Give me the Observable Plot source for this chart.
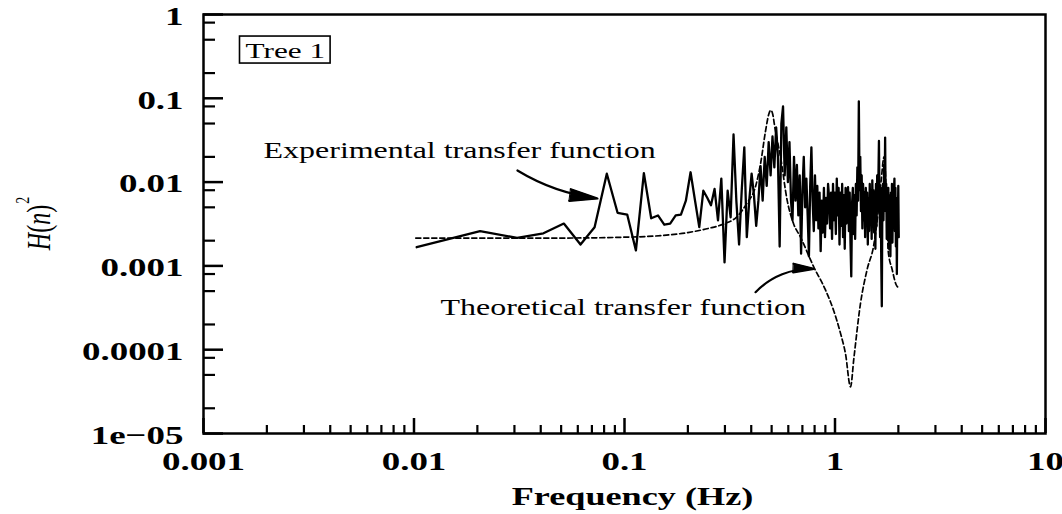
<!DOCTYPE html>
<html><head><meta charset="utf-8">
<script src="https://cdn.jsdelivr.net/npm/d3@7"></script>
<script src="https://cdn.jsdelivr.net/npm/@observablehq/plot@0.6"></script>
<style>body{margin:0;background:#fff;} #chart svg{display:block;}</style>
</head><body><div id="chart"></div>
<script>
// ---- data ----
const freqStep = 0.0103; // spectral resolution (Hz) of the measured transfer function
const experimental = [
 0.00167,0.0026,0.00216,0.00245,0.0032,0.0018,0.0029,0.0126,0.0043,0.0041,
 0.00153,0.0128,0.0037,0.004,0.0031,0.0032,0.004,0.0041,0.006,0.0131,
 0.006,0.0029,0.0079,0.0065,0.0053,0.0083,0.0035,0.011,0.0011,0.0079,
 0.0038,0.037,0.006,0.0018,0.008,0.026,0.0022,0.006,0.0126,0.007,
 0.003,0.006,0.0155,0.006,0.02,0.009,0.03,0.012,0.035,0.015,
 0.045,0.02,0.0017,0.05,0.08,0.012,0.045,0.01,0.03,0.006,
 0.0035,0.02,0.006,0.016,0.004,0.012,0.0014,0.008,0.02,0.005,
 0.011,0.004,0.0013,0.009,0.026,0.006,0.0026,0.012,0.0035,0.009,
 0.0028,0.0075,0.0015,0.006,0.0025,0.0085,0.0022,0.0065,0.0032,0.0095,
 0.0066,0.0028,0.0075,0.0021,0.0095,0.0035,0.0075,0.0024,0.011,0.004,
 0.0085,0.0018,0.0075,0.003,0.0095,0.0022,0.007,0.0016,0.0085,0.0032,
 0.0065,0.0087,0.0026,0.0075,0.0019,0.00075,0.0055,0.0085,0.0024,0.007,
 0.0021,0.0095,0.004,0.015,0.006,0.092,0.008,0.02,0.0045,0.012,
 0.0028,0.0095,0.0035,0.0075,0.0022,0.0085,0.003,0.0075,0.0018,0.0065,
 0.0026,0.0095,0.0032,0.008,0.0021,0.0105,0.0038,0.008,0.0025,0.0075,
 0.0016,0.0095,0.003,0.012,0.0045,0.01,0.031,0.0055,0.0022,0.0085,
 0.0012,0.00033,0.006,0.0095,0.0035,0.016,0.006,0.034,0.0045,0.0095,
 0.0021,0.0075,0.0028,0.0085,0.0016,0.007,0.0035,0.0013,0.0075,0.0024,
 0.0095,0.0019,0.007,0.003,0.008,0.011,0.0026,0.0085,0.0017,0.0065,
 0.0008,0.006,0.0028,0.009,0.0022
];
const theoFreq = [0.0102,0.02,0.05,0.1,0.15,0.2,0.25,0.3,0.34,0.38,0.42,0.443,0.468,0.485,0.495,0.505,0.52,0.551,0.593,0.635,0.686,0.793,0.9,0.987,1.06,1.122,1.185,1.23,1.32,1.42,1.53,1.6,1.66,1.71,1.75,1.79,1.87,1.95,2.0];
const theoValue = [0.00215,0.00215,0.00215,0.0022,0.0023,0.0025,0.0028,0.0032,0.0038,0.0055,0.009,0.0166,0.041,0.065,0.072,0.066,0.042,0.02,0.006,0.0032,0.0022,0.00097,0.00052,0.00029,0.00016,0.000089,0.000036,0.00008,0.00035,0.0009,0.0018,0.0042,0.011,0.02,0.008,0.0015,0.0009,0.0006,0.00055];

const xTicks = [0.001, 0.01, 0.1, 1, 10];
const xTickLabels = ["0.001", "0.01", "0.1", "1", "10"];
const yTicks = [1, 0.1, 0.01, 0.001, 0.0001, 0.00001];
const yTickLabels = ["1", "0.1", "0.01", "0.001", "0.0001", "1e\u221205"];
const xDecades = [0.001, 0.01, 0.1, 1];
const xMinorMult = [2, 3, 4, 5, 6, 7, 8, 9];
const yDecades = [0.00001, 0.0001, 0.001, 0.01, 0.1];
const yMinorMult = [2, 5, 8];

const annText = ["Experimental transfer function", "Theoretical transfer function"];
const annX = [0.00193, 0.01336];
const annY = [0.0235, 0.000312];
const arrowX1 = [0.0310, 0.4193];
const arrowY1 = [0.01375, 0.000486];
const arrowX2 = [0.0744, 0.793];
const arrowY2 = [0.00637, 0.000923];
const arrowBend = [-12, 24];
const boxLabel = "Tree 1";
const xTitle = "Frequency (Hz)";

// ---- build ----
const expData = experimental.map((v, i) => ({f: (i + 1) * freqStep, v}));
const theoData = theoFreq.map((f, i) => ({f, v: theoValue[i]}));
const xMinor = xDecades.flatMap(d => xMinorMult.map(m => m * d));
const yMinor = yDecades.flatMap(d => yMinorMult.map(m => m * d));
const xLab = new Map(xTicks.map((t, i) => [t, xTickLabels[i]]));
const yLab = new Map(yTicks.map((t, i) => [t, yTickLabels[i]]));
const ann = annText.map((t, i) => ({t, x: annX[i], y: annY[i]}));

const serif = "'Liberation Serif', 'Times New Roman', serif";
const chart = Plot.plot({
  width: 1062, height: 514,
  marginLeft: 203, marginRight: 17, marginTop: 14, marginBottom: 81,
  style: {background: "white", color: "black", fontFamily: serif},
  x: {type: "log", domain: [0.001, 10]},
  y: {type: "log", domain: [0.00001, 1]},
  marks: [
    Plot.line(theoData, {x: "f", y: "v", stroke: "black", strokeWidth: 1.7, strokeDasharray: "5,3", curve: "monotone-x"}),
    Plot.line(expData, {x: "f", y: "v", stroke: "black", strokeWidth: 2.3}),
    Plot.frame({stroke: "black", strokeWidth: 2.5}),
    Plot.axisX({ticks: xTicks, anchor: "bottom", tickSize: 0, tickPadding: 18, tickFormat: d => xLab.get(d), fontSize: 26, fontWeight: "bold", label: null}),
    Plot.axisX({ticks: xTicks, anchor: "bottom", tickSize: 15, dy: -15, text: null, strokeWidth: 2.5, label: null}),
    Plot.axisX({ticks: xMinor, anchor: "bottom", tickSize: 8, dy: -8, text: null, strokeWidth: 2.2, label: null}),
    Plot.axisY({ticks: yTicks, anchor: "left", tickSize: 0, tickPadding: 20, dy: 2, tickFormat: d => yLab.get(d), fontSize: 26, fontWeight: "bold", label: null}),
    Plot.axisY({ticks: yTicks, anchor: "left", tickSize: 20, dx: 20, text: null, strokeWidth: 2.5, label: null}),
    Plot.axisY({ticks: yMinor, anchor: "left", tickSize: 12, dx: 12, text: null, strokeWidth: 2.2, label: null}),
    Plot.text(ann, {x: "x", y: "y", text: "t", textAnchor: "start", lineAnchor: "middle", fontSize: 22.5, fill: "black"}),
    Plot.arrow([0], {x1: () => arrowX1[0], y1: () => arrowY1[0], x2: () => arrowX2[0], y2: () => arrowY2[0], bend: arrowBend[0], headLength: 30, headAngle: 24, strokeWidth: 2.2, stroke: "black"}),
    Plot.arrow([0], {x1: () => arrowX1[1], y1: () => arrowY1[1], x2: () => arrowX2[1], y2: () => arrowY2[1], bend: arrowBend[1], headLength: 30, headAngle: 24, strokeWidth: 2.2, stroke: "black"}),
    Plot.text([boxLabel], {frameAnchor: "top-left", dx: 42, dy: 36, textAnchor: "start", lineAnchor: "middle", fontSize: 22, fill: "black"}),
    Plot.text([xTitle], {frameAnchor: "bottom", dx: 8, dy: 63, lineAnchor: "middle", fontSize: 25.5, fontWeight: "bold", fill: "black"})
  ]
});
document.getElementById("chart").append(chart);

// horizontal stretch of the typeset text, as in the reference
const SX = 1.42;
const svgNS = "http://www.w3.org/2000/svg";
d3.select(chart).selectAll("text").each(function() {
  const w = this.getComputedTextLength();
  if (w > 0) {
    this.setAttribute("textLength", (w * SX).toFixed(1));
    this.setAttribute("lengthAdjust", "spacingAndGlyphs");
  }
});

// filled arrowheads
d3.select(chart).selectAll('g[aria-label="arrow"] path').each(function() {
  const d = this.getAttribute("d");
  const m = d.match(/M[^M]*$/);
  if (m) {
    const p = document.createElementNS(svgNS, "path");
    p.setAttribute("d", m[0] + "Z");
    p.setAttribute("fill", "black");
    p.setAttribute("stroke", "black");
    p.setAttribute("stroke-width", "1");
    p.setAttribute("stroke-linejoin", "miter");
    this.parentNode.appendChild(p);
  }
});

// box around the "Tree 1" label
d3.select(chart).selectAll("text").filter(function() { return this.textContent === boxLabel; }).each(function() {
  const b = this.getBBox();
  const t = this.getAttribute("transform");
  const r = document.createElementNS(svgNS, "rect");
  r.setAttribute("x", b.x - 6);
  r.setAttribute("y", b.y - 1.5);
  r.setAttribute("width", b.width + 11);
  r.setAttribute("height", b.height + 2);
  r.setAttribute("fill", "none");
  r.setAttribute("stroke", "black");
  r.setAttribute("stroke-width", "1.6");
  if (t) r.setAttribute("transform", t);
  this.parentNode.insertBefore(r, this);
});

// y-axis title H(n)^2
const ys = chart.scale("y");
const yMid = (ys.range[0] + ys.range[1]) / 2;
const yt = d3.select(chart).append("text")
  .attr("transform", `translate(50,${yMid}) rotate(-90) scale(1,${SX})`)
  .attr("text-anchor", "middle")
  .attr("font-family", serif)
  .attr("font-size", 24)
  .attr("fill", "black");
yt.append("tspan").attr("font-style", "italic").text("H");
yt.append("tspan").text("(");
yt.append("tspan").attr("font-style", "italic").text("n");
yt.append("tspan").text(")");
yt.append("tspan").attr("font-size", 14).attr("dy", -15).attr("dx", 1).text("2");
</script>
</body></html>
